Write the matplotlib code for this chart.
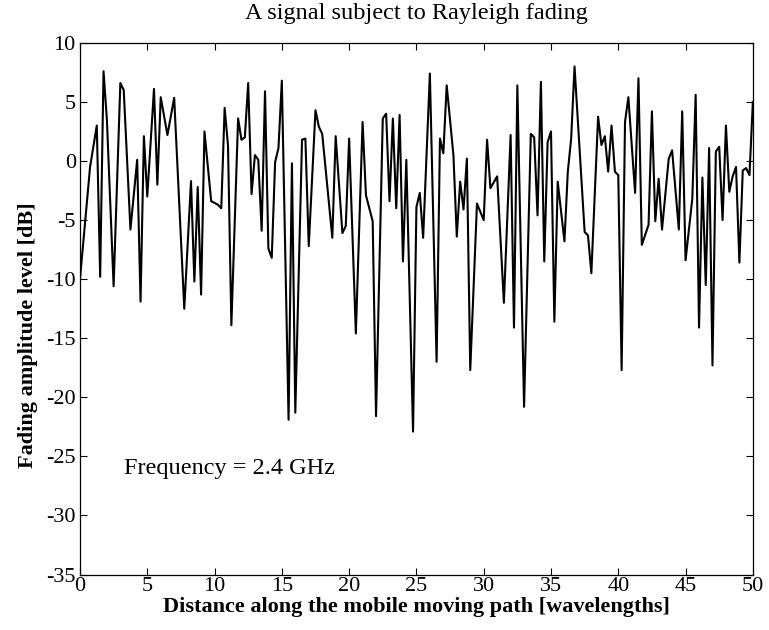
import numpy as np
import matplotlib
matplotlib.use('Agg')
import matplotlib.pyplot as plt

# distance along path [wavelengths] and fading level [dB]
dist = [0.0, 0.75, 1.25, 1.5, 1.75, 2.0, 2.5, 3.0, 3.25, 3.75, 4.25, 4.5, 4.75,
        5.0, 5.5, 5.75, 6.0, 6.5, 7.0, 7.75, 8.25, 8.5, 8.75, 9.0, 9.25, 9.75,
        10.25, 10.5, 10.75, 11.0, 11.25, 11.75, 12.0, 12.25, 12.5, 12.75, 13.0,
        13.25, 13.5, 13.75, 14.0, 14.25, 14.5, 14.75, 15.0, 15.5, 15.75, 16.0,
        16.5, 16.75, 17.0, 17.5, 17.75, 18.0, 18.75, 19.0, 19.5, 19.75, 20.0,
        20.5, 21.0, 21.25, 21.75, 22.0, 22.5, 22.75, 23.0, 23.25, 23.5, 23.75,
        24.0, 24.25, 24.75, 25.0, 25.25, 25.5, 26.0, 26.5, 26.75, 27.0, 27.25,
        27.75, 28.0, 28.25, 28.5, 28.75, 29.0, 29.5, 30.0, 30.25, 30.5, 31.0,
        31.5, 32.0, 32.25, 32.5, 33.0, 33.5, 33.75, 34.0, 34.25, 34.5, 34.75,
        35.0, 35.25, 35.5, 36.0, 36.25, 36.5, 36.75, 37.5, 37.75, 38.0, 38.5,
        38.75, 39.0, 39.25, 39.5, 39.75, 40.0, 40.25, 40.5, 40.75, 41.25, 41.5,
        41.75, 42.25, 42.5, 42.75, 43.0, 43.25, 43.75, 44.0, 44.5, 44.75, 45.0,
        45.5, 45.75, 46.0, 46.25, 46.5, 46.75, 47.0, 47.25, 47.5, 47.75, 48.0,
        48.25, 48.5, 48.75, 49.0, 49.25, 49.5, 49.75, 50.0]
level = [-10.0, -0.5, 3.0, -9.8, 7.6, 3.5, -10.6, 6.6, 6.0, -5.8, 0.1, -11.9, 2.1,
         -3.0, 6.1, -2.0, 5.4, 2.2, 5.35, -12.5, -1.7, -10.2, -2.2, -11.3, 2.5, -3.4,
         -3.7, -4.0, 4.5, 1.3, -13.9, 3.6, 1.8, 2.0, 6.6, -2.8, 0.5,
         0.1, -5.9, 5.9, -7.4, -8.2, -0.1, 1.1, 6.8, -21.9, -0.2, -21.3,
         1.8, 1.9, -7.2, 4.3, 2.9, 2.3, -6.5, 2.1, -6.1, -5.5, 1.9,
         -14.6, 3.3, -2.9, -5.1, -21.6, 3.6, 4.0, -3.4, 3.6, -4.0, 3.9,
         -8.5, 0.1, -22.9, -3.9, -2.7, -6.5, 7.4, -17.0, 1.9, 0.65, 6.4,
         0.5, -6.4, -1.75, -4.1, 0.2, -17.7, -3.6, -5.0, 1.8, -2.3, -1.3,
         -12.0, 2.2, -14.1, 6.4, -20.8, 2.3, 2.0, -4.6, 6.7, -8.5, 1.6,
         2.5, -13.6, -1.75, -6.8, -0.9, 1.9, 8.0, -6.0, -6.3, -9.5, 3.75,
         1.35, 2.1, -0.9, 3.0, -0.9, -1.2, -17.7, 3.3, 5.4, -2.7, 7.0,
         -7.1, -5.4, 4.2, -5.1, -1.5, -5.8, 0.2, 0.9, -5.8, 4.2, -8.4,
         -3.2, 5.6, -14.1, -1.4, -10.5, 1.1, -17.3, 0.8, 1.2, -5.0, 3.0,
         -2.6, -1.3, -0.5, -8.6, -0.8, -0.6, -1.2, 5.0]

plt.rcParams['font.family'] = ['Liberation Serif', 'DejaVu Serif']
plt.rcParams['axes.unicode_minus'] = False
plt.rcParams['xtick.direction'] = 'in'
plt.rcParams['ytick.direction'] = 'in'

fig = plt.figure(figsize=(7.69, 6.30), dpi=100)
ax = fig.add_axes([0.104, 0.088, 0.875, 0.844])
ax.plot(dist, level, color='black', linewidth=1.5)

ax.set_xlim(0, 50)
ax.set_ylim(-35, 10)
ax.set_xticks(np.arange(0, 51, 5))
ax.set_yticks(np.arange(-35, 11, 5))
ax.tick_params(top=True, right=True, labelsize=16, length=5, width=0.8)
ax.tick_params(axis='x', pad=2)
ax.tick_params(axis='y', pad=3)
for s in ax.spines.values():
    s.set_linewidth(0.9)

ax.set_title('A signal subject to Rayleigh fading', fontsize=17.5, pad=17)
ax.set_xlabel('Distance along the mobile moving path [wavelengths]',
              fontsize=16, fontweight='bold')
ax.xaxis.set_label_coords(0.5, -0.043)
ax.set_ylabel('Fading amplitude level [dB]', fontsize=16, fontweight='bold')
ax.yaxis.set_label_coords(-0.062, 0.45)
ax.text(3.3, -26, 'Frequency = 2.4 GHz', fontsize=17.5, va='center', ha='left')

fig.savefig('out.png', dpi=100)
